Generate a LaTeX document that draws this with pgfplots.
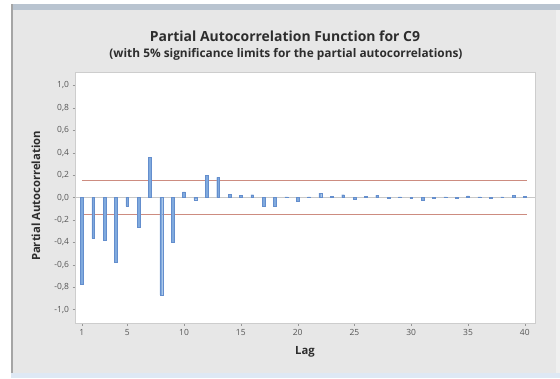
\documentclass[border=0pt]{standalone}
\usepackage{pgfplots}
\pgfplotsset{compat=1.18}
\usepackage{fontspec}
\setmainfont{Open Sans}
\definecolor{bgwin}{RGB}{231,231,231}
\definecolor{barfill}{RGB}{128,170,222}
\definecolor{bardraw}{RGB}{100,142,205}
\definecolor{siglim}{RGB}{205,140,128}
\definecolor{titlecol}{RGB}{45,45,45}
\definecolor{tickcol}{RGB}{85,85,85}
\pgfplotstableread{
lag pacf
1 -0.77
2 -0.365
3 -0.38
4 -0.58
5 -0.08
6 -0.265
7 0.36
8 -0.87
9 -0.395
10 0.05
11 -0.02
12 0.20
13 0.18
14 0.03
15 0.02
16 0.025
17 -0.075
18 -0.075
19 0.005
20 -0.03
21 0.005
22 0.04
23 0.01
24 0.025
25 -0.015
26 0.01
27 0.02
28 -0.005
29 0.005
30 -0.01
31 -0.025
32 -0.01
33 0.005
34 -0.005
35 0.015
36 0.005
37 -0.005
38 0.005
39 0.02
40 0.01
}\pacfdata
\begin{document}
\begin{tikzpicture}[x=1bp,y=1bp]
\useasboundingbox (0,0) rectangle (560,378);
\fill[white] (0,0) rectangle (560,378);
% window
\fill[bgwin] (11,5) rectangle (556,374);
\fill[color={rgb,255:red,185;green,196;blue,208}] (11,368) rectangle (560,374);
\fill[color={rgb,255:red,165;green,165;blue,165}] (11,5) rectangle (13,374);
\fill[color={rgb,255:red,222;green,232;blue,244}] (11,0) rectangle (560,5);
\fill[color={rgb,255:red,240;green,240;blue,240}] (556,5) rectangle (560,368);
% titles
\node[font=\bfseries\fontsize{14}{16}\selectfont, text=titlecol] at (285,342) {Partial Autocorrelation Function for C9};
\node[font=\bfseries\fontsize{11.9}{13}\selectfont, text=titlecol] at (286,324) {(with 5\% significance limits for the partial autocorrelations)};
\begin{axis}[
  at={(75bp,55bp)}, anchor=south west,
  width=460bp, height=251bp, scale only axis,
  xmin=0.4, xmax=40.9, ymin=-1.12, ymax=1.12,
  xtick={1,5,10,15,20,25,30,35,40},
  ytick={-1,-0.8,-0.6,-0.4,-0.2,0,0.2,0.4,0.6,0.8,1},
  yticklabel style={/pgf/number format/.cd, fixed, fixed zerofill, precision=1, use comma, assume math mode=true},
  xticklabel style={/pgf/number format/assume math mode=true},
  tick label style={font=\fontsize{8.5}{10}\selectfont, text=tickcol},
  tick align=outside, major tick length=2.5bp,
  tick style={color={rgb,255:red,150;green,150;blue,150}},
  xtick pos=bottom, ytick pos=left,
  axis line style={color={rgb,255:red,205;green,205;blue,205}},
  axis background/.style={fill=white},
  xlabel={Lag}, ylabel={Partial Autocorrelation},
  label style={font=\bfseries\fontsize{11.3}{13}\selectfont, text=titlecol},
  xlabel style={at={(axis description cs:0.5,-0.1155)}, anchor=center},
  ylabel style={at={(axis description cs:-0.0848,0.506)}, anchor=center, rotate=0},
  clip=true,
]
\addplot[color={rgb,255:red,200;green,200;blue,200}, line width=0.4bp] coordinates {(0.4,0) (40.9,0)};
\addplot[siglim, line width=1.3bp] coordinates {(1,0.15) (40.2,0.15)};
\addplot[siglim, line width=1.3bp] coordinates {(1,-0.15) (40.2,-0.15)};
\addplot[ybar, bar width=2.8bp, fill=barfill, draw=bardraw, line width=0.3bp] table[x=lag, y=pacf] {\pacfdata};
\end{axis}
\end{tikzpicture}
\end{document}
